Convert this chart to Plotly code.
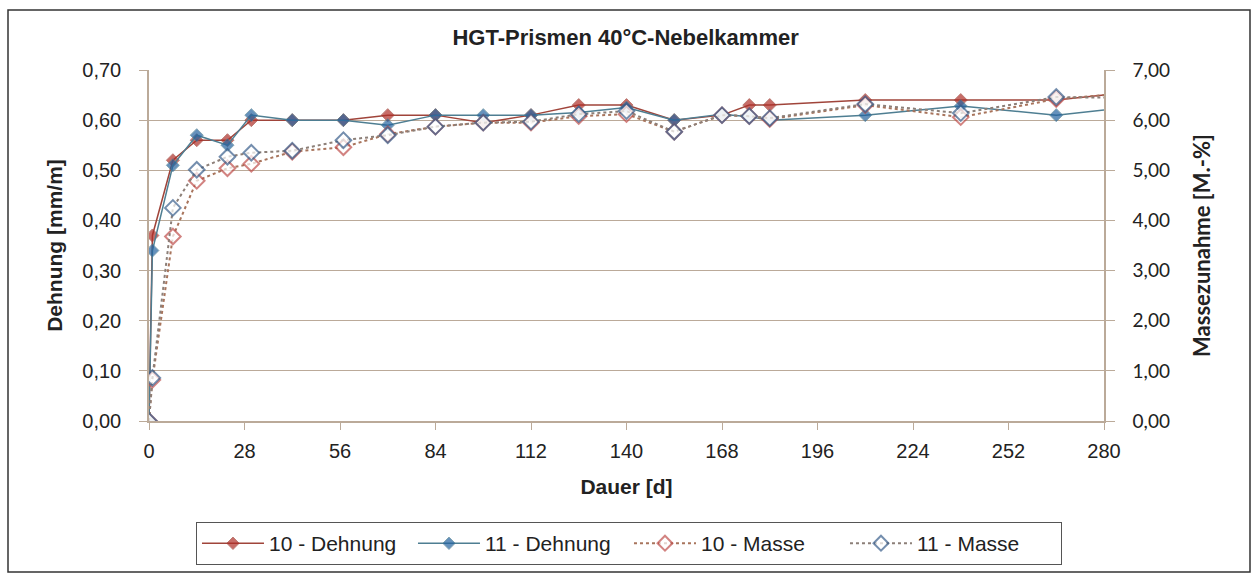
import plotly.graph_objects as go

# Test days [d]
days = [0, 1, 7, 14, 23, 30, 42, 57, 70, 84, 98, 112, 126, 140, 154, 168, 176, 182, 210, 238, 266, 280]

# Strain [mm/m]
dehnung_10 = [0.00, 0.37, 0.52, 0.56, 0.56, 0.60, 0.60, 0.60, 0.61, 0.61, 0.595, 0.61, 0.63, 0.63,
              0.60, 0.61, 0.63, 0.63, 0.64, 0.64, 0.64, 0.65]
dehnung_11 = [0.00, 0.34, 0.51, 0.57, 0.55, 0.61, 0.60, 0.60, 0.59, 0.61, 0.61, 0.61, 0.615, 0.625,
              0.60, 0.612, 0.607, 0.60, 0.61, 0.628, 0.61, 0.62]

# Mass gain [M.-%]
masse_10 = [0.00, 0.82, 3.68, 4.79, 5.04, 5.13, 5.37, 5.46, 5.72, 5.87, 5.95, 5.95, 6.08, 6.12,
            5.77, 6.10, 6.08, 6.02, 6.30, 6.06, 6.42, 6.50]
masse_11 = [0.00, 0.86, 4.25, 5.01, 5.27, 5.35, 5.39, 5.60, 5.70, 5.87, 5.95, 5.97, 6.12, 6.18,
            5.77, 6.10, 6.08, 6.04, 6.32, 6.14, 6.46, 6.45]

x_ticks = list(range(0, 281, 28))

FONT = "Liberation Sans, Arial, sans-serif"
FONT_R = "Lato, Open Sans, sans-serif"
GRID = "#BBAA99"
TXT = "#222222"


def sizes(n, s):
    # the final reading sits on the axis edge and is drawn without a marker
    return [s] * (n - 1) + [0]


fig = go.Figure()

fig.add_trace(go.Scatter(
    x=days, y=masse_10, name="10 - Masse", yaxis="y2", mode="lines+markers", legendrank=3,
    line=dict(color="#A8745C", width=2, dash="3px,3px"),
    marker=dict(symbol="diamond", size=sizes(len(days), 12), color="white",
                line=dict(color="#C0504D", width=2)),
))
fig.add_trace(go.Scatter(
    x=days, y=masse_11, name="11 - Masse", yaxis="y2", mode="lines+markers", legendrank=4,
    line=dict(color="#8C7F78", width=2, dash="3px,3px"),
    marker=dict(symbol="diamond", size=sizes(len(days), 12), color="white",
                line=dict(color="#3A5F8C", width=2)),
))
fig.add_trace(go.Scatter(
    x=days, y=dehnung_10, name="10 - Dehnung", mode="lines+markers", legendrank=1,
    line=dict(color="#A0443A", width=1.5),
    marker=dict(symbol="diamond", size=sizes(len(days), 10), color="#B02E28"),
))
fig.add_trace(go.Scatter(
    x=days, y=dehnung_11, name="11 - Dehnung", mode="lines+markers", legendrank=2,
    line=dict(color="#4E7E92", width=1.5),
    marker=dict(symbol="diamond", size=sizes(len(days), 10), color="#2463A0"),
))

fig.update_layout(
    width=1255, height=575,
    margin=dict(l=149, r=151, t=70, b=154, autoexpand=False),
    paper_bgcolor="white", plot_bgcolor="white",
    separators=",.",
    font=dict(family=FONT, size=20, color=TXT),
    title=dict(text="<b>HGT-Prismen 40°C-Nebelkammer</b>", x=0.4985, xanchor="center",
               y=1 - 37 / 575, yanchor="middle", font=dict(size=22, color=TXT)),
    showlegend=True,
    legend=dict(orientation="h", x=0.5026, xanchor="center", y=-0.288, yanchor="top",
                bordercolor="#555555", borderwidth=1,
                font=dict(size=21, color=TXT), itemwidth=62,
                entrywidth=139, entrywidthmode="pixels"),
    xaxis=dict(range=[0, 280], tickvals=x_ticks, ticks="outside", ticklen=7, tickcolor=GRID,
               showline=True, linecolor=GRID, linewidth=1.5, showgrid=False, zeroline=False,
               tickfont=dict(size=20), ticklabelstandoff=4,
               title=dict(text="<b>Dauer [d]</b>", font=dict(size=21), standoff=19)),
    yaxis=dict(range=[0, 0.7], dtick=0.1, tickformat=".2f", ticks="outside", ticklen=8,
               tickcolor=GRID, showline=True, linecolor=GRID, linewidth=1.5,
               showgrid=True, gridcolor=GRID, gridwidth=1.3, zeroline=False,
               tickfont=dict(size=20), ticklabelstandoff=14,
               title=dict(text="<b>Dehnung [mm/m]</b>", font=dict(size=21), standoff=14)),
    yaxis2=dict(range=[0, 7], dtick=1, tickformat=".2f", overlaying="y", side="right",
                ticks="outside", ticklen=9, tickcolor=GRID, showline=True, linecolor=GRID,
                linewidth=1.5, showgrid=False, zeroline=False,
                tickfont=dict(family=FONT_R, size=19), ticklabelstandoff=14,
                title=dict(text="<b>Massezunahme [M.-%]</b>",
                           font=dict(family=FONT_R, size=22), standoff=26)),
    hovermode=False,
)

# outer chart frame
fig.add_shape(type="rect", xref="paper", yref="paper",
              x0=(8 - 149) / 955, x1=(1250 - 149) / 955,
              y0=(421 - 572) / 351, y1=(421 - 10) / 351,
              line=dict(color="#333333", width=1.5), layer="below")

fig.write_html("out.html", config={"displayModeBar": False})
